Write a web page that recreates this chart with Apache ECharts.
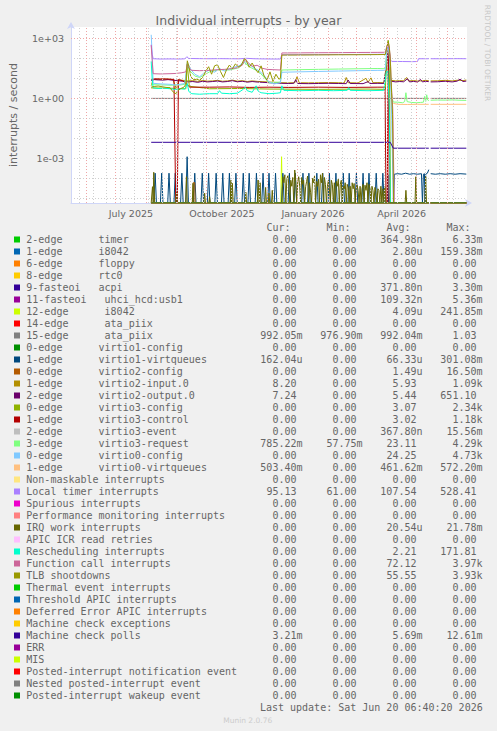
<!DOCTYPE html>
<html><head><meta charset="utf-8">
<script src="https://cdn.jsdelivr.net/npm/echarts@6/dist/echarts.min.js"></script>
<style>html,body{margin:0;padding:0;background:#f0f0f0;}#chart{width:497px;height:731px;}</style>
</head><body><div id="chart"></div>
<script>
// ---------- time frame ----------
const BASE = Date.UTC(2025, 4, 17);      // left edge of plot (day 0)
const DAY = 86400000;
const SPAN_DAYS = 400;
const Y_MIN = 5.82e-6, Y_MAX = 3673;

// ---------- tick labels ----------
const xTickLabels = ['July 2025', 'October 2025', 'January 2026', 'April 2026'];
const xTickMonths = [[2025, 6], [2025, 9], [2026, 0], [2026, 3]];
const title = 'Individual interrupts - by year';
const yName = 'interrupts / second';

// ---------- legend ----------
const legendNames = [
 '2-edge      timer','1-edge      i8042','6-edge      floppy','8-edge      rtc0','9-fasteoi   acpi',
 '11-fasteoi   uhci_hcd:usb1','12-edge      i8042','14-edge      ata_piix','15-edge      ata_piix',
 '0-edge      virtio1-config','1-edge      virtio1-virtqueues','0-edge      virtio2-config',
 '1-edge      virtio2-input.0','2-edge      virtio2-output.0','0-edge      virtio3-config',
 '1-edge      virtio3-control','2-edge      virtio3-event','3-edge      virtio3-request',
 '0-edge      virtio0-config','1-edge      virtio0-virtqueues','Non-maskable interrupts',
 'Local timer interrupts','Spurious interrupts','Performance monitoring interrupts','IRQ work interrupts',
 'APIC ICR read retries','Rescheduling interrupts','Function call interrupts','TLB shootdowns',
 'Thermal event interrupts','Threshold APIC interrupts','Deferred Error APIC interrupts',
 'Machine check exceptions','Machine check polls','ERR','MIS','Posted-interrupt notification event',
 'Nested posted-interrupt event','Posted-interrupt wakeup event'];
const legendColors = [
 '#00CC00','#0066B3','#FF8000','#FFCC00','#330099','#990099','#CCFF00','#FF0000','#808080',
 '#008F00','#00487D','#B35A00','#B38F00','#6B006B','#8FB300','#B30000','#BEBEBE','#80FF80',
 '#80C9FF','#FFC080','#FFE680','#AA80FF','#EE00CC','#FF8080','#666600','#FFBFFF','#00FFCC',
 '#CC6699','#999900','#00CC00','#0066B3','#FF8000','#FFCC00','#330099','#990099','#CCFF00',
 '#FF0000','#808080','#008F00'];
const legendCur = ['0.00','0.00','0.00','0.00','0.00','0.00','0.00','0.00','992.05m','0.00','162.04u','0.00','8.20','7.24','0.00','0.00','0.00','785.22m','0.00','503.40m','0.00','95.13','0.00','0.00','0.00','0.00','0.00','0.00','0.00','0.00','0.00','0.00','0.00','3.21m','0.00','0.00','0.00','0.00','0.00'];
const legendMin = ['0.00','0.00','0.00','0.00','0.00','0.00','0.00','0.00','976.90m','0.00','0.00','0.00','0.00','0.00','0.00','0.00','0.00','57.75m','0.00','0.00','0.00','61.00','0.00','0.00','0.00','0.00','0.00','0.00','0.00','0.00','0.00','0.00','0.00','0.00','0.00','0.00','0.00','0.00','0.00'];
const legendAvg = ['364.98n','2.80u','0.00','0.00','371.80n','109.32n','4.09u','0.00','992.04m','0.00','66.33u','1.49u','5.93','5.44','3.07','3.02','367.80n','23.11','24.25','461.62m','0.00','107.54','0.00','0.00','20.54u','0.00','2.21','72.12','55.55','0.00','0.00','0.00','0.00','5.69m','0.00','0.00','0.00','0.00','0.00'];
const legendMax = ['6.33m','159.38m','0.00','0.00','3.30m','5.36m','241.85m','0.00','1.03','0.00','301.08m','16.50m','1.09k','651.10','2.34k','1.18k','15.56m','4.29k','4.73k','572.20m','0.00','528.41','0.00','0.00','21.78m','0.00','171.81','3.97k','3.93k','0.00','0.00','0.00','0.00','12.61m','0.00','0.00','0.00','0.00','0.00'];
const lastUpdate = 'Last update: Sat Jun 20 06:40:20 2026';

// ---------- series values: [day since BASE, value]; null = no data ----------
const zeroSpan = [[81,0],[361.4,0],[362.4,null],[363.3,0],[399.3,0]];

const localTimer = [[81,480],[82,160],[83,95],[90,92],[100,93],[110,92],[115,94],[117,120],[119,98],[130,96],[140,95],[150,96],[160,95],[170,94],[177,100],[185,95],[195,93],[205,92],[211.5,92],[213,150],[230,152],[250,153],[270,155],[290,156],[310,158],[317.5,160],[319,300],[320.5,520],[321.7,200],[322.7,82],[324,70],[335,69],[345,68],[350,69],[351,95],[361.4,95],[362.4,null],[363.3,95],[375,95],[390,96],[399.3,95]];

const functionCall = [[81,450],[82,80],[83,17],[90,16.5],[100,17],[106,17.5],[112,19],[116,21],[117.5,50],[119,32],[122,25],[130,24],[140,25],[148,27],[155,28],[162,30],[168,34],[173,45],[176,95],[179,60],[183,40],[188,45],[193,32],[198,28],[204,27],[211.5,26],[213,185],[230,187],[250,190],[270,192],[290,195],[310,198],[317.5,200],[319,400],[320.5,640],[321.7,260],[322.5,120],[323.3,8],[325,0.3],[326.5,0],[361.4,0],[362.4,null],[363.3,0],[399.3,0]];

const tlb = [[81,3.6],[84,3.9],[88,4.1],[92,3.8],[96,3.5],[100,3.4],[103,2.1],[106,1.7],[108,2.4],[111,3.1],[114,3.6],[116,5],[117.5,75],[119,40],[121,12],[124,8.5],[127,9],[130,8],[133,11],[136,22],[139,38],[142,16],[145,42],[148,48],[151,22],[154,11],[157,26],[160,46],[163,30],[166,52],[169,38],[172,45],[175,95],[177,78],[180,36],[183,58],[186,30],[189,19],[192,42],[195,13],[198,8],[201,21],[204,7],[207,16],[210,9],[211.5,10],[213,145],[230,146],[250,148],[270,150],[290,151],[310,153],[317.5,155],[319,350],[320.5,720],[321.7,300],[322.8,40],[323.8,2],[324.8,0.15],[325.8,0],[361.4,0],[362.4,null],[363.3,0],[399.3,0]];

const rescheduling = [[81,70],[82,9],[83,3.3],[88,3.1],[94,3.2],[100,3.0],[105,2.8],[110,3.0],[115,2.9],[117.5,5.5],[119,2.2],[122,1.7],[130,1.6],[140,1.7],[148,1.7],[150,2.4],[152,1.8],[160,1.7],[168,1.8],[173,2.6],[176,3.6],[178,2.4],[183,2.0],[187,4.2],[189,2.3],[192,1.9],[200,1.7],[208,1.8],[211.5,1.9],[213,4.2],[215,2.5],[230,2.4],[250,2.5],[265,2.4],[279,2.5],[280.5,3.4],[282,2.5],[300,2.4],[316,2.5],[318.5,20],[320,25],[321.5,0.3],[322.5,0],[361.4,0],[362.4,null],[363.3,0],[399.3,0]];

const virtio0Config = [[81,1500],[82,150],[83,5.6],[90,5.3],[100,5.0],[105,4.6],[110,5.0],[115,5.5],[117.5,60],[119,45],[121,28],[125,16],[130,12],[135,20],[140,26],[145,20],[150,31],[155,23],[160,30],[165,36],[170,42],[175,72],[178,55],[182,42],[186,30],[190,24],[195,14],[200,6.5],[205,5.2],[211.5,6],[213,20],[230,21],[250,22],[270,23],[290,24],[310,25],[317.5,25],[319,200],[320.5,560],[321.7,80],[322.5,30],[324,0.08],[325.5,0],[361.4,0],[362.4,null],[363.3,0],[399.3,0]];

const virtio3Request = [[81,4.8],[90,4.7],[100,4.5],[110,4.6],[115,5.0],[117.5,48],[120,24],[125,13],[130,11],[140,21],[150,27],[160,26],[170,34],[175,62],[180,38],[190,21],[200,6],[211.5,6.5],[213,26],[230,27],[250,28],[270,29],[290,30],[310,31],[317.5,30],[319,280],[320.5,750],[321.7,150],[322.8,8],[324,1.2],[325.5,0.65],[330,0.64],[335,0.6],[337,0.68],[338.3,1.9],[339.5,0.68],[344,0.62],[349,0.6],[353,0.62],[356,0.64],[357.3,1.25],[358.3,0.7],[359.3,1.5],[360.3,0.82],[361.4,0.76],[362.4,null],[363.3,0.8],[370,0.82],[378,0.81],[386,0.83],[392,0.8],[399.3,0.785]];

const virtio0Virtqueues = [[325.5,0.56],[330,0.5],[340,0.49],[350,0.5],[361.4,0.5],[362.4,null],[363.3,0.5],[380,0.5],[399.3,0.503]];

const ataPiix15 = [[81,0.99],[200,0.99],[361.4,0.99],[362.4,null],[363.3,0.99],[399.3,0.992]];

const mcePolls = [[81,0.0063],[322.5,0.0063],[325.5,0.0032],[361.4,0.0032],[362.4,null],[363.3,0.0032],[399.3,0.0032]];

const virtio2Output = [[81,7.6],[84,8.6],[88,8.3],[93,8.1],[98,8.6],[103,8.0],[108,7.6],[113,7.1],[118,6.6],[123,6.9],[128,6.3],[133,7.1],[138,6.6],[143,6.9],[148,7.3],[153,6.6],[158,6.9],[163,7.6],[168,6.7],[173,7.1],[178,6.4],[183,6.9],[188,6.5],[193,6.3],[198,6.1],[203,5.9],[208,5.7],[213,5.6],[220,5.5],[225,5.6],[227,8.5],[229,5.5],[240,5.4],[250,5.5],[260,5.6],[270,5.5],[278,5.4],[280,8.2],[282,5.5],[295,5.4],[300,6.8],[302,5.5],[310,5.6],[316,5.5],[318.5,30],[320.5,420],[321.7,40],[323,7.2],[328,6.6],[332,6.9],[336,6.7],[340,9.5],[342,6.6],[346,7.0],[350,6.5],[353,8.8],[355,6.6],[358,7.1],[361.4,6.8],[362.4,null],[363.3,6.6],[370,6.7],[378,7.1],[385,6.6],[390,7.2],[393,9.0],[396,6.9],[399.3,7.24]];

const virtio2Input = [[81,4.3],[83,8.8],[88,9.0],[93,8.9],[98,9.1],[103,8.6],[106.6,2.8],[108.5,8.5],[113,7.9],[118,7.4],[123,7.6],[128,7.0],[133,7.7],[138,7.2],[143,7.4],[148,7.9],[153,7.1],[158,7.4],[163,8.1],[168,7.2],[173,7.6],[178,6.9],[183,7.4],[188,7.0],[193,6.8],[198,6.6],[203,6.4],[208,6.2],[213,6.0],[220,5.9],[226,6.0],[228.3,12],[230.5,6.0],[240,5.9],[250,6.0],[260,6.1],[270,6.0],[276,5.9],[278,11],[280,6.0],[290,5.9],[298,10],[300,6.2],[303,10.5],[305,6.0],[310,6.1],[316,6.0],[318.5,40],[320.5,600],[321.7,60],[323,8.0],[328,7.4],[332,7.6],[336,7.5],[339,11],[341,7.4],[346,7.7],[350,7.3],[355,7.5],[358,7.9],[361.4,7.6],[362.4,null],[363.3,7.4],[370,7.5],[378,7.9],[385,7.4],[390,8.0],[396,7.7],[399.3,8.2]];

const virtio3Control = [[81,8.8],[85,9.4],[90,9.2],[95,9.3],[100,9.0],[104,8.8],[105.8,0],[107.4,0],[108.5,8.6],[113,7.5],[117,5.0],[120,3.6],[140,3.6],[160,3.7],[180,3.5],[200,3.6],[220,3.5],[250,3.6],[280,3.5],[310,3.6],[317.2,3.6],[318.2,0],[319.4,0],[320.5,650],[321.5,0],[361.4,0],[362.4,null],[363.3,0],[399.3,0]];

const virtio3Config = [[81,3.3],[100,3.2],[116,3.0],[117.5,50],[119.5,4.0],[140,3.0],[170,3.1],[200,2.9],[250,2.8],[300,2.9],[317.5,2.8],[319,150],[320.5,800],[321.7,20],[322.8,0],[361.4,0],[362.4,null],[363.3,0],[399.3,0]];

const virtio1SpikeDays = [85,91.6,99,105.3,112,117.3,125,132.6,139,146.6,153.3,160,166.6,174,180,187.3,194,200,206.6,214,220.6,226.6,234.3,240.3,248.3,254.3,261,267.6,275,281,288.3,295,301,308.3,315];
const virtio1SpikeHeights = [1.8e-4,1.8e-4,1.8e-4,1.8e-4,1.8e-4,1.2e-3,1.8e-4,1.8e-4,1.8e-4,1.8e-4,1.8e-4,1.8e-4,1.8e-4,1.8e-4,1.8e-4,1.8e-4,1.8e-4,1.8e-4,1.8e-4,1.8e-4,1.8e-4,1.8e-4,1.8e-4,1.8e-4,1.8e-4,1.8e-4,1.8e-4,1.8e-4,1.8e-4,1.8e-4,1.8e-4,1.8e-4,1.8e-4,1.8e-4,1.8e-4];
const virtio1Tail = [[319.5,0],[320,1.5e-4],[320.8,0],[325.8,0],[326.6,1.6e-4],[330,1.7e-4],[334,1.6e-4],[338,1.8e-4],[342,1.6e-4],[346,1.7e-4],[350,1.6e-4],[354,1.7e-4],[355,0],[356,1.6e-4],[357,1.7e-4],[357.6,0],[358.3,1.6e-4],[360,1.8e-4],[361.4,2.7e-4],[362.4,null],[363.3,1.7e-4],[368,1.6e-4],[373,1.7e-4],[378,1.6e-4],[383,1.7e-4],[388,1.6e-4],[393,1.7e-4],[399.3,1.62e-4]];

const irqWork = [[81,0],[82.3,3.8e-5],[83,0],[83.6,2e-4],[84.5,0],[105.8,0],[106.6,2e-5],[107.4,0],[115.8,0],[116.6,1.2e-4],[117.4,0],[122.5,0],[123.3,5.6e-5],[124.1,0],[134.2,0],[135,1.8e-5],[135.8,0],[139.2,0],[140,1.2e-5],[140.8,0],[160.8,0],[161.6,8e-5],[162.3,0],[163,5.6e-5],[163.8,0],[175.8,0],[176.6,2e-5],[177.4,0],[188.2,0],[189,8.2e-5],[190,0],[191,6e-5],[191.8,0],[195.8,0],[196.6,3.5e-5],[197.4,0],[199.2,0],[200,1.8e-5],[200.8,0],[202.5,0],[203.3,2.5e-5],[204.1,0],
 [213,0],[214,1.2e-4],[215,6e-5],[216,1.5e-4],[217,0],[218,9e-5],[219,1.4e-4],[220,5e-5],[221,0],[222,8e-5],[223,4e-5],[224,1.1e-4],[225,0],[226,2.6e-4],[227,7e-5],[228,0],[229,6.5e-5],[230,1.2e-4],[231,4e-5],[232,0],[233,1.1e-4],[234,5e-5],[235,8e-5],[236,0],[237,3.8e-5],[238,7e-5],[239,1.3e-4],[240,0],[241,6e-5],[242,2e-5],[243,0],[244,1.0e-4],[245,6e-5],[246,1.3e-4],[247,0],[248,7e-5],[249,4e-5],[250,9e-5],[251,0],[252,1.5e-4],[253,6e-5],[254,1.8e-4],[255,0],[256,1.1e-4],[257,5e-5],[258,0],[259,4e-5],[260,8e-5],[261,3e-5],[262,0],[263,8e-5],[264,5e-5],[265,0],[266,6e-5],[267,0],[268,7e-5],[269,4e-5],[270,9e-5],[271,0],[272,5e-5],[273,8e-5],[274,0],[275,4e-5],[276,3e-5],[277,6e-5],[278,0],[279,5e-5],[280,3.5e-5],[281,0],[282,4e-5],[283,0],[284,6e-5],[285,3e-5],[286,5.5e-5],[287,0],[288,3e-5],[289,4.5e-5],[290,2.5e-5],[291,0],[292,4e-5],[293,0],[294,3e-5],[295,5e-5],[296,0],[297,4.5e-5],[298,2.5e-5],[299,6e-5],[300,0],[301,5e-5],[302,3e-5],[303,0],[304,4e-5],[305,2.5e-5],[306,0],[307,3.5e-5],[308,2e-5],[309,0],[310,3e-5],[311,2.5e-5],[312,0],[313,4e-5],[314,0],[315,3e-5],[316,0],[317,3.8e-5],[318,0],
 [337.5,0],[338.3,2.5e-5],[339.1,0],[347.5,0],[348.3,1.2e-4],[349.1,0],[357.5,0],[358.3,1.2e-4],[359.1,0],[361.4,0],[362.4,null],[363.3,0],[399.3,0]];

const i8042Irq12 = [[81,0],[211.9,0],[212.7,1.2e-3],[213.5,0],[361.4,0],[362.4,null],[363.3,0],[399.3,0]];
const virtio2Config = [[81,0],[123,0],[123.4,6e-5],[125,6e-5],[125.4,0],[361.4,0],[362.4,null],[363.3,0],[399.3,0]];

// ---------- build ----------
function buildVirtio1() {
  const out = [[81, 0]];
  virtio1SpikeDays.forEach((d, i) => { out.push([d - 1.3, 0], [d, virtio1SpikeHeights[i]], [d + 1.3, 0]); });
  return out.concat(virtio1Tail);
}
const seriesPoints = [
  zeroSpan, zeroSpan, zeroSpan, zeroSpan, zeroSpan, zeroSpan, i8042Irq12, zeroSpan, ataPiix15,
  zeroSpan, buildVirtio1(), virtio2Config, virtio2Input, virtio2Output, virtio3Config, virtio3Control,
  zeroSpan, virtio3Request, virtio0Config, virtio0Virtqueues, zeroSpan, localTimer, zeroSpan, zeroSpan,
  irqWork, zeroSpan, rescheduling, functionCall, tlb, zeroSpan, zeroSpan, zeroSpan, zeroSpan, mcePolls,
  zeroSpan, zeroSpan, zeroSpan, zeroSpan, zeroSpan];

const toTs = d => BASE + d * DAY;
const X_MIN = BASE, X_MAX = BASE + SPAN_DAYS * DAY;

const dataSeries = seriesPoints.map((pts, i) => ({
  type: 'line', name: legendNames[i],
  data: pts.map(p => [toTs(p[0]), p[1] == null ? '-' : Math.max(p[1], Y_MIN)]),
  showSymbol: false, symbol: 'none', connectNulls: false, clip: true, silent: true,
  lineStyle: { width: 1, color: legendColors[i] }, itemStyle: { color: legendColors[i] },
  z: 2, animation: false
}));

// grid lines (drawn under the data)
const monthLines = [], weekLines = [];
for (let y = 2025, m = 5; ; ) {
  const t = Date.UTC(y, m, 1); if (t >= X_MAX) break;
  if (t > X_MIN) monthLines.push(t);
  m++; if (m > 11) { m = 0; y++; }
}
for (let t = Date.UTC(2025, 4, 25); t < X_MAX; t += 14 * DAY) weekLines.push(t);
const gray = { color: '#cfcfcf', type: [1, 2], width: 1 };
const red = { color: '#eea6a6', type: [1, 2], width: 1 };
const gridSeries = {
  type: 'line', data: [], z: 1, silent: true, animation: false,
  markLine: {
    silent: true, symbol: ['none', 'none'], label: { show: false }, animation: false,
    emphasis: { disabled: true },
    data: weekLines.map(t => ({ xAxis: t, lineStyle: gray }))
      .concat(monthLines.map(t => ({ xAxis: t, lineStyle: red })))
      .concat([1e3, 1, 1e-3].map(v => ({ yAxis: v, lineStyle: red })))
  }
};

const xLabelTs = xTickMonths.map(([y, m]) => (Date.UTC(y, m, 1) + Date.UTC(y, m + 1, 1)) / 2);

// legend graphics
const FONT_MONO = '10px "DejaVu Sans Mono"';
const TXT = '#666';
const NB = '\u00a0';
const colRight = [302.5, 362.5, 422.5, 482.5];
const pad = s => (/[0-9]$/.test(s) ? s + NB : s);
const gfx = [];
const txt = (text, x, y, align, extra) => gfx.push(Object.assign({
  type: 'text', x, y, silent: true,
  style: { text, fill: TXT, font: FONT_MONO, align, textAlign: align, verticalAlign: 'middle', textVerticalAlign: 'middle' }
}, extra || {}));
['Cur:', 'Min:', 'Avg:', 'Max:'].forEach((h, k) => txt(h + NB + NB, colRight[k], 227.3, 'right'));
legendNames.forEach((n, i) => {
  const y = 239.5 + 12 * i;
  gfx.push({ type: 'rect', silent: true, shape: { x: 14, y: y - 3, width: 6, height: 6 }, style: { fill: legendColors[i] } });
  txt(n.replace(/ /g, NB), 26.3, y, 'left');
  [legendCur, legendMin, legendAvg, legendMax].forEach((arr, k) => txt(pad(arr[i]), colRight[k], y, 'right'));
});
txt(lastUpdate.replace(/ /g, NB), 482.7, 707.3, 'right');
gfx.push({ type: 'text', x: 247.7, y: 720, silent: true,
  style: { text: 'Munin 2.0.76', fill: '#cccccc', font: '7.5px "DejaVu Sans"', align: 'center', textAlign: 'center', verticalAlign: 'middle', textVerticalAlign: 'middle' } });
gfx.push({ type: 'text', x: 487, y: 53, rotation: -Math.PI / 2, silent: true,
  style: { text: 'RRDTOOL / TOBI OETIKER', fill: '#c8c8c8', font: '7.5px "DejaVu Sans"', align: 'center', textAlign: 'center', verticalAlign: 'middle', textVerticalAlign: 'middle' } });

const chart = echarts.init(document.getElementById('chart'), null, { renderer: 'svg', width: 497, height: 731 });
chart.setOption({
  animation: false,
  backgroundColor: '#f0f0f0',
  title: { text: title, left: 'center', top: 9,
    textStyle: { fontFamily: 'DejaVu Sans', fontSize: 12.5, fontWeight: 'normal', color: '#666' } },
  grid: { left: 67, top: 27, width: 400, height: 176, show: true, backgroundColor: '#ffffff', borderWidth: 0 },
  xAxis: {
    type: 'value', min: X_MIN, max: X_MAX,
    axisLine: { show: true, lineStyle: { color: '#cfd6f8', width: 1 }, symbol: ['none', 'arrow'], symbolSize: [6, 7], symbolOffset: [0, 5] },
    axisTick: { show: false },
    splitLine: { show: false },
    axisLabel: {
      customValues: xLabelTs,
      formatter: v => { const i = xLabelTs.findIndex(t => Math.abs(t - v) < DAY); return i >= 0 ? xTickLabels[i] : ''; },
      color: '#666', fontFamily: 'DejaVu Sans', fontSize: 9.5, margin: 5, hideOverlap: false
    }
  },
  yAxis: {
    type: 'log', logBase: 10, min: Y_MIN, max: Y_MAX, splitNumber: 9,
    name: yName, nameLocation: 'middle', nameGap: 52, nameRotate: 90,
    nameTextStyle: { fontFamily: 'DejaVu Sans', fontSize: 11, color: '#666' },
    axisLine: { show: true, lineStyle: { color: '#cfd6f8', width: 1 }, symbol: ['none', 'arrow'], symbolSize: [6, 7], symbolOffset: [0, 5] },
    axisTick: { show: false },
    axisLabel: {
      color: '#666', fontFamily: 'DejaVu Sans', fontSize: 9.5, margin: 7,
      formatter: v => {
        const e = Math.log10(v), r = Math.round(e);
        if (Math.abs(e - r) > 1e-6 || r % 3 !== 0) return '';
        return '1e' + (r < 0 ? '-' : '+') + String(Math.abs(r)).padStart(2, '0');
      }
    },
    splitLine: { show: true, showMinLine: false, showMaxLine: false, lineStyle: gray }
  },
  series: [gridSeries].concat(dataSeries),
  graphic: { elements: gfx }
});
</script></body></html>
